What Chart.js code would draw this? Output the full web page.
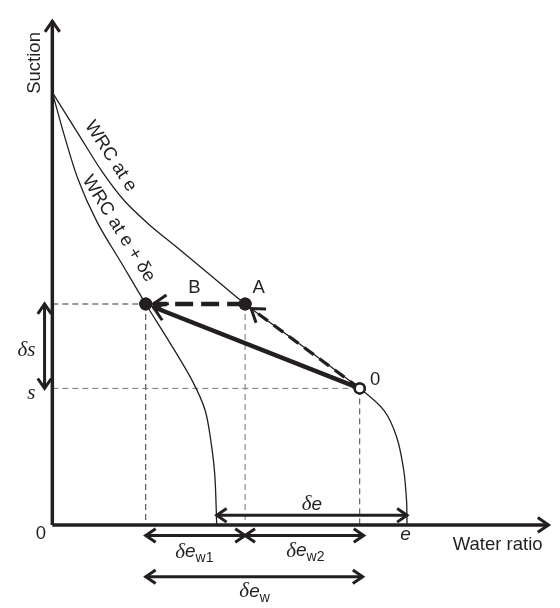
<!DOCTYPE html>
<html>
<head>
<meta charset="utf-8">
<script src="https://cdn.jsdelivr.net/npm/chart.js@4.4.1/dist/chart.umd.min.js"></script>
<style>
  html, body { margin: 0; padding: 0; background: #fff; }
  #wrap { width: 560px; height: 608px; }
</style>
</head>
<body>
<div id="wrap"><canvas id="wrc" width="560" height="608"></canvas></div>
<script>
// water retention curves (x = water ratio, y = suction, arbitrary units)
const wrcE_x = [0, 5.27, 9.96, 14.46, 19.34, 24.81, 31.45, 38.7, 50.2, 61.7, 66.6, 69.1, 70.5, 71.1, 71.2];
const wrcE_y = [85.85, 77.53, 70.17, 64.34, 59.7, 55.24, 49.82, 43.85, 35.5, 27.1, 22.7, 17.5, 11.1, 4.9, 0];
const wrcDe_x = [0, 2.34, 5.08, 8.99, 13.87, 18.75, 23.64, 28.13, 30.67, 31.84, 32.62, 33.0];
const wrcDe_y = [85.85, 77.53, 68.82, 60.11, 51.98, 43.85, 36.1, 28.55, 22.75, 16.55, 9.78, 0];

// states 0, A, B
const stateNames = ['0', 'A', 'B'];
const stateX = [61.7, 38.7, 18.75];
const stateY = [27.1, 43.85, 43.85];

// e and e - de where the curves meet the axis
const eVal = 71.2;
const eShift = 33.0;

// levels of the dimension arrows
const deLevel = 1.9;
const dewLevel = -2.1;
const dewTotalLevel = -10.3;
const dsPos = -1.56;

const axisTopY = 100;
const axisEndX = 99.6;

const ink = '#231f20';
const pts = (xs, ys) => xs.map((x, i) => ({ x: x, y: ys[i] }));

const [x0, xA, xB] = stateX;
const [y0, yA, yB] = stateY;

function line(data, opts) {
  return Object.assign({
    data: data,
    showLine: true,
    borderColor: ink,
    borderWidth: 1,
    pointRadius: 0,
    fill: false,
    tension: 0,
    order: 5
  }, opts);
}

const datasets = [
  // guides
  line([{x: 0, y: yB}, {x: xB, y: yB}], {borderDash: [6, 4], borderColor: '#333'}),
  line([{x: 0, y: y0}, {x: x0, y: y0}], {borderDash: [6, 4], borderColor: '#777'}),
  line([{x: xB, y: yB}, {x: xB, y: 0}], {borderDash: [6, 4], borderColor: '#333'}),
  line([{x: xA, y: yA}, {x: xA, y: 0}], {borderDash: [6, 4], borderColor: '#777'}),
  line([{x: x0, y: y0}, {x: x0, y: 0}], {borderDash: [6, 4], borderColor: '#444'}),
  // curves
  line(pts(wrcE_x, wrcE_y), {borderWidth: 1.3, tension: 0.3, order: 4}),
  line(pts(wrcDe_x, wrcDe_y), {borderWidth: 1.3, tension: 0.3, order: 4}),
  // axes
  line([{x: 0, y: 0}, {x: 0, y: axisTopY}], {borderWidth: 3.5, arrow: 'end', head: 13, order: 3}),
  line([{x: 0, y: 0}, {x: axisEndX, y: 0}], {borderWidth: 3.5, arrow: 'end', head: 13, order: 3}),
  // stress paths
  line([{x: x0, y: y0}, {x: xB + 1.5, y: yB - 0.6}], {borderWidth: 4.5, arrow: 'end', head: 16, order: 2}),
  line([{x: xA, y: yA}, {x: xB + 1.5, y: yB}], {borderWidth: 4.5, borderDash: [18, 8], arrow: 'end', head: 16, order: 2}),
  line([{x: x0, y: y0}, {x: xA + 1.2, y: yA - 0.9}], {borderWidth: 3.2, borderDash: [12, 7], arrow: 'end', head: 15, order: 2}),
  // dimension arrows
  line([{x: eShift, y: deLevel}, {x: eVal, y: deLevel}], {borderWidth: 3, arrow: 'both', head: 12, order: 3}),
  line([{x: xB, y: dewLevel}, {x: xA, y: dewLevel}], {borderWidth: 3, arrow: 'both', head: 12, order: 3}),
  line([{x: xA, y: dewLevel}, {x: x0 + 0.8, y: dewLevel}], {borderWidth: 3, arrow: 'both', head: 12, order: 3}),
  line([{x: xB, y: dewTotalLevel}, {x: x0 + 0.6, y: dewTotalLevel}], {borderWidth: 3, arrow: 'both', head: 12, order: 3}),
  line([{x: dsPos, y: y0}, {x: dsPos, y: yB}], {borderWidth: 3, arrow: 'both', head: 12, order: 3}),
  // state points
  {
    data: pts(stateX, stateY),
    showLine: false,
    pointRadius: [5, 6.5, 6.5],
    pointBackgroundColor: ['#fff', ink, ink],
    pointBorderColor: ink,
    pointBorderWidth: [2.5, 0, 0],
    order: 0
  }
];

// text labels: [text parts, x, y, rotation in degrees]
const sans = '"Liberation Sans", Arial, sans-serif';
const serif = '"Liberation Serif", "Times New Roman", serif';
const delta = {t: 'δ', f: 'italic 21px ' + serif};
const eIt = {t: 'e', f: 'italic 19px ' + sans};
const sub = t => ({t: t, f: '14px ' + sans, dy: 6});
const plain = t => ({t: t, f: '18.5px ' + sans});

const labels = [
  {parts: [plain('Suction')], x: -3.5, y: 91.7, rot: -90},
  {parts: [plain('WRC at e')], x: 11.7, y: 73.2, rot: 57},
  {parts: [plain('WRC at e + δe')], x: 13.3, y: 58.8, rot: 58},
  {parts: [plain(stateNames[2])], x: 28.5, y: 47.0},
  {parts: [plain(stateNames[1])], x: 41.4, y: 47.0},
  {parts: [plain(stateNames[0])], x: 64.8, y: 28.8},
  {parts: [delta, {t: 's', f: 'italic 21px ' + serif}], x: -5.2, y: 34.6},
  {parts: [{t: 's', f: 'italic 21px ' + serif}], x: -4.2, y: 26.1},
  {parts: [plain('0')], x: -2.3, y: -1.8},
  {parts: [eIt], x: 70.9, y: -1.9},
  {parts: [plain('Water ratio')], x: 89.4, y: -3.9},
  {parts: [delta, eIt], x: 52.1, y: 4.1},
  {parts: [delta, eIt, sub('w1')], x: 28.5, y: -5.4},
  {parts: [delta, eIt, sub('w2')], x: 50.8, y: -5.2},
  {parts: [delta, eIt, sub('w')], x: 40.6, y: -13.3}
];

function chevron(ctx, tip, from, len, width) {
  const ang = Math.atan2(tip.y - from.y, tip.x - from.x);
  const spread = 0.6;
  ctx.save();
  ctx.setLineDash([]);
  ctx.strokeStyle = ink;
  ctx.lineWidth = width;
  ctx.lineCap = 'butt';
  ctx.lineJoin = 'miter';
  ctx.beginPath();
  ctx.moveTo(tip.x - len * Math.cos(ang - spread), tip.y - len * Math.sin(ang - spread));
  ctx.lineTo(tip.x, tip.y);
  ctx.lineTo(tip.x - len * Math.cos(ang + spread), tip.y - len * Math.sin(ang + spread));
  ctx.stroke();
  ctx.restore();
}

const decor = {
  id: 'decor',
  afterDatasetsDraw(chart) {
    const ctx = chart.ctx;
    chart.data.datasets.forEach((ds, i) => {
      if (!ds.arrow) return;
      const el = chart.getDatasetMeta(i).data;
      const n = el.length;
      const w = Math.min(ds.borderWidth, 3);
      if (ds.arrow === 'end' || ds.arrow === 'both') chevron(ctx, el[n - 1], el[n - 2], ds.head, w);
      if (ds.arrow === 'start' || ds.arrow === 'both') chevron(ctx, el[0], el[1], ds.head, w);
    });
    // redraw state points above the arrow heads
    const meta = chart.getDatasetMeta(chart.data.datasets.length - 1);
    meta.data.forEach(p => p.draw(ctx));
  },
  afterDraw(chart) {
    const ctx = chart.ctx;
    const sx = chart.scales.x, sy = chart.scales.y;
    ctx.save();
    ctx.fillStyle = ink;
    ctx.textBaseline = 'middle';
    labels.forEach(l => {
      let total = 0;
      l.parts.forEach(p => { ctx.font = p.f; p.w = ctx.measureText(p.t).width; total += p.w; });
      ctx.save();
      ctx.translate(sx.getPixelForValue(l.x), sy.getPixelForValue(l.y));
      if (l.rot) ctx.rotate(l.rot * Math.PI / 180);
      let cx = -total / 2;
      l.parts.forEach(p => {
        ctx.font = p.f;
        ctx.textAlign = 'left';
        ctx.fillText(p.t, cx, p.dy || 0);
        cx += p.w;
      });
      ctx.restore();
    });
    ctx.restore();
  }
};

new Chart(document.getElementById('wrc').getContext('2d'), {
  type: 'scatter',
  data: { datasets: datasets },
  options: {
    responsive: false,
    animation: false,
    events: [],
    layout: { padding: 0 },
    plugins: { legend: { display: false }, tooltip: { enabled: false } },
    scales: {
      x: { type: 'linear', display: false, min: -9, max: 100.4 },
      y: { type: 'linear', display: false, min: -15, max: 102.7 }
    }
  },
  plugins: [decor]
});
</script>
</body>
</html>
